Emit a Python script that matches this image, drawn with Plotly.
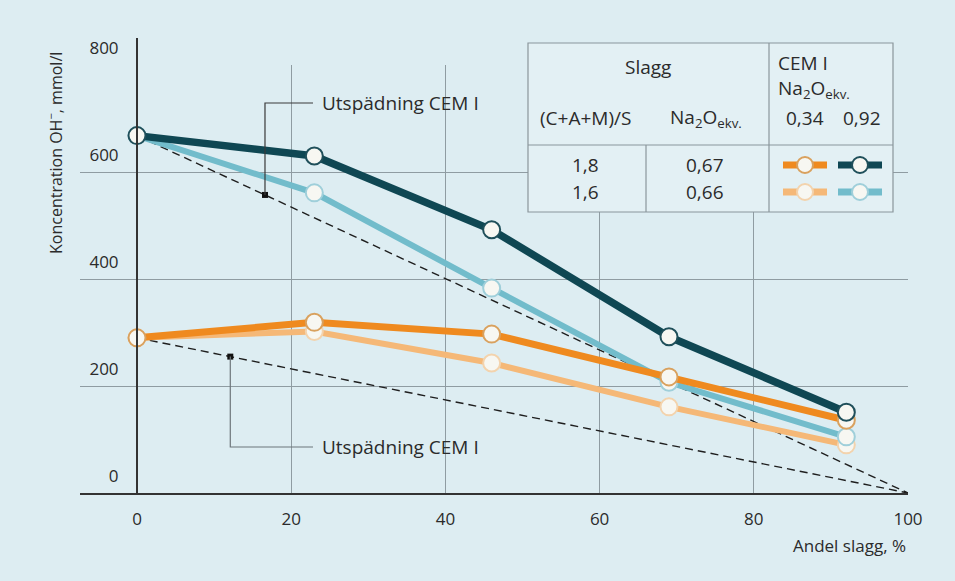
import plotly.graph_objects as go

# ---------------- data ----------------
andel_slagg = [0, 23, 46, 69, 92]                 # % slag
oh_092_s18 = [668, 630, 492, 292, 151]             # CEM I 0,92 + slag 1,8
oh_092_s16 = [668, 561, 383, 207, 105]             # CEM I 0,92 + slag 1,6
oh_034_s18 = [290, 319, 297, 217, 136]             # CEM I 0,34 + slag 1,8
oh_034_s16 = [290, 302, 243, 161, 90]              # CEM I 0,34 + slag 1,6
x_ticks = [0, 20, 40, 60, 80, 100]
y_ticks = [0, 200, 400, 600, 800]

C_DARK = "#0f4753"
C_LTEAL = "#72bccb"
C_ORANGE = "#ef8a1f"
C_LORANGE = "#f5b877"
BG = "#ddedf2"
GRID = "#8f9ca2"
FONT = "Open Sans"
TXT = "#2b2b2b"

# plot area in pixels
W, H = 955, 581
L, R, T, B = 80, 908, 65, 493
X0 = -(137 - L) / ((R - 137) / 100.0)

def px(xp):
    return (xp - L) / (R - L)

def py(yp):
    return (B - yp) / (B - T)

def dilution(y0, x):
    return y0 * (1 - x / 100.0)

fig = go.Figure()

# dilution (Utspädning CEM I) dashed lines
for y0 in (oh_092_s18[0], oh_034_s18[0]):
    fig.add_trace(go.Scatter(x=[0, 100], y=[y0, dilution(y0, 100)], mode="lines",
                             line=dict(color="#1e1e1e", width=1.4, dash="8px,5px"),
                             hoverinfo="skip", showlegend=False))

series = [
    (oh_034_s16, C_LORANGE, 6, "#f3d3ad"),
    (oh_092_s16, C_LTEAL, 6, "#9fcfda"),
    (oh_034_s18, C_ORANGE, 7, "#d9a15e"),
    (oh_092_s18, C_DARK, 7.5, "#1f4f5a"),
]
for ys, col, lw, mcol in series:
    fig.add_trace(go.Scatter(x=andel_slagg, y=ys, mode="lines+markers",
                             line=dict(color=col, width=lw),
                             marker=dict(symbol="circle", size=17, color="#f7f7f2",
                                         line=dict(color=mcol, width=2)),
                             showlegend=False))

shapes = []
annotations = []

# y axis line extension above the plot area
shapes.append(dict(type="line", xref="x", yref="paper", x0=0, x1=0, y0=1, y1=py(38),
                   line=dict(color="#333333", width=2)))

# leader lines for "Utspädning CEM I"
x_txt = (320 - 137) / 7.71
x_end = (313 - 137) / 7.71
y_top = (B - 103) / ((B - T) / 800.0)
y_bot = (B - 447) / ((B - T) / 800.0)
for xs, ylab, col, y0 in ((16.6, y_top, "#3a3a3a", oh_092_s18[0]),
                          (12.1, y_bot, "#6d777b", oh_034_s18[0])):
    yd = dilution(y0, xs)
    shapes.append(dict(type="path", xref="x", yref="y",
                       path=f"M {xs},{yd} L {xs},{ylab} L {x_end},{ylab}",
                       line=dict(color=col, width=1.2)))
    fig.add_trace(go.Scatter(x=[xs], y=[yd], mode="markers",
                             marker=dict(symbol="square", size=6, color="#111111"),
                             hoverinfo="skip", showlegend=False))
    annotations.append(dict(x=x_txt, y=ylab, xref="x", yref="y", text="Utspädning CEM I",
                            showarrow=False, xanchor="left", yanchor="middle",
                            font=dict(family=FONT, size=19, color=TXT)))

# legend table
bx0, bx1, by0, by1 = 528, 893, 43, 212
shapes.append(dict(type="rect", xref="paper", yref="paper", x0=px(bx0), x1=px(bx1),
                   y0=py(by1), y1=py(by0), fillcolor="#e3f0f4",
                   line=dict(color="#8a969b", width=1.2), layer="above"))
for (x0_, y0_, x1_, y1_) in ((bx0, 145, bx1, 145), (769, by0, 769, by1), (646, 145, 646, by1)):
    shapes.append(dict(type="line", xref="paper", yref="paper", x0=px(x0_), x1=px(x1_),
                       y0=py(y0_), y1=py(y1_), line=dict(color="#8a969b", width=1.2),
                       layer="above"))

def txt(xp_, yp_, s, anchor="center", size=19):
    annotations.append(dict(x=px(xp_), y=py(yp_), xref="paper", yref="paper", text=s,
                            showarrow=False, xanchor=anchor, yanchor="middle",
                            font=dict(family=FONT, size=size, color=TXT)))

na2o = "Na<sub>2</sub>O<sub>ekv.</sub>"
txt(648, 67, "Slagg")
txt(585, 118, "(C+A+M)/S")
txt(706, 118, na2o)
txt(776, 63, "CEM I", "left")
txt(776, 89, na2o, "left")
txt(805, 118, "0,34")
txt(862, 118, "0,92")
txt(585, 165, "1,8")
txt(585, 192, "1,6")
txt(705, 165, "0,67")
txt(705, 192, "0,66")

# legend samples
r = 8
for cx, cy, col, mcol in ((805, 165, C_ORANGE, "#d9a15e"), (860, 165, C_DARK, "#1f4f5a"),
                          (805, 192, C_LORANGE, "#f3d3ad"), (860, 192, C_LTEAL, "#9fcfda")):
    shapes.append(dict(type="line", xref="paper", yref="paper", x0=px(cx - 22), x1=px(cx + 22),
                       y0=py(cy), y1=py(cy), line=dict(color=col, width=7), layer="above"))
    shapes.append(dict(type="circle", xref="paper", yref="paper", x0=px(cx - r), x1=px(cx + r),
                       y0=py(cy + r), y1=py(cy - r), fillcolor="#f7f7f2",
                       line=dict(color=mcol, width=2), layer="above"))

# axis titles
annotations.append(dict(x=px(55), y=py(153), xref="paper", yref="paper",
                        text="Koncentration OH<sup>−</sup>, mmol/l", textangle=-90,
                        showarrow=False, xanchor="center", yanchor="middle",
                        font=dict(family=FONT, size=16, color=TXT)))
annotations.append(dict(x=1, y=py(545), xref="paper", yref="paper", text="Andel slagg, %",
                        showarrow=False, xanchor="right", yanchor="middle",
                        font=dict(family=FONT, size=17, color=TXT)))

fig.update_layout(
    width=W, height=H,
    margin=dict(l=L, r=W - R, t=T, b=H - B),
    paper_bgcolor=BG, plot_bgcolor=BG,
    font=dict(family=FONT, size=17, color=TXT),
    shapes=shapes, annotations=annotations,
    xaxis=dict(range=[X0, 100], tickvals=x_ticks, ticktext=[str(v) for v in x_ticks],
               showgrid=True, gridcolor=GRID, gridwidth=1, zeroline=False,
               showline=True, linecolor="#333333", linewidth=2, ticks="",
               ticklabelstandoff=10, tickfont=dict(family=FONT, size=17, color=TXT)),
    yaxis=dict(range=[0, 800], tickvals=y_ticks, ticktext=[str(v) for v in y_ticks],
               anchor="free", position=px(137), showgrid=True, gridcolor=GRID, gridwidth=1,
               zeroline=False, showline=True, linecolor="#333333", linewidth=2, ticks="",
               ticklabelstandoff=14, ticklabelshift=-17,
               tickfont=dict(family=FONT, size=17, color=TXT)),
)

fig.write_html("out.html",
               config={"displayModeBar": False},
               post_script="document.body.style.margin='0';"
                           "document.body.style.background='#ddedf2';")
